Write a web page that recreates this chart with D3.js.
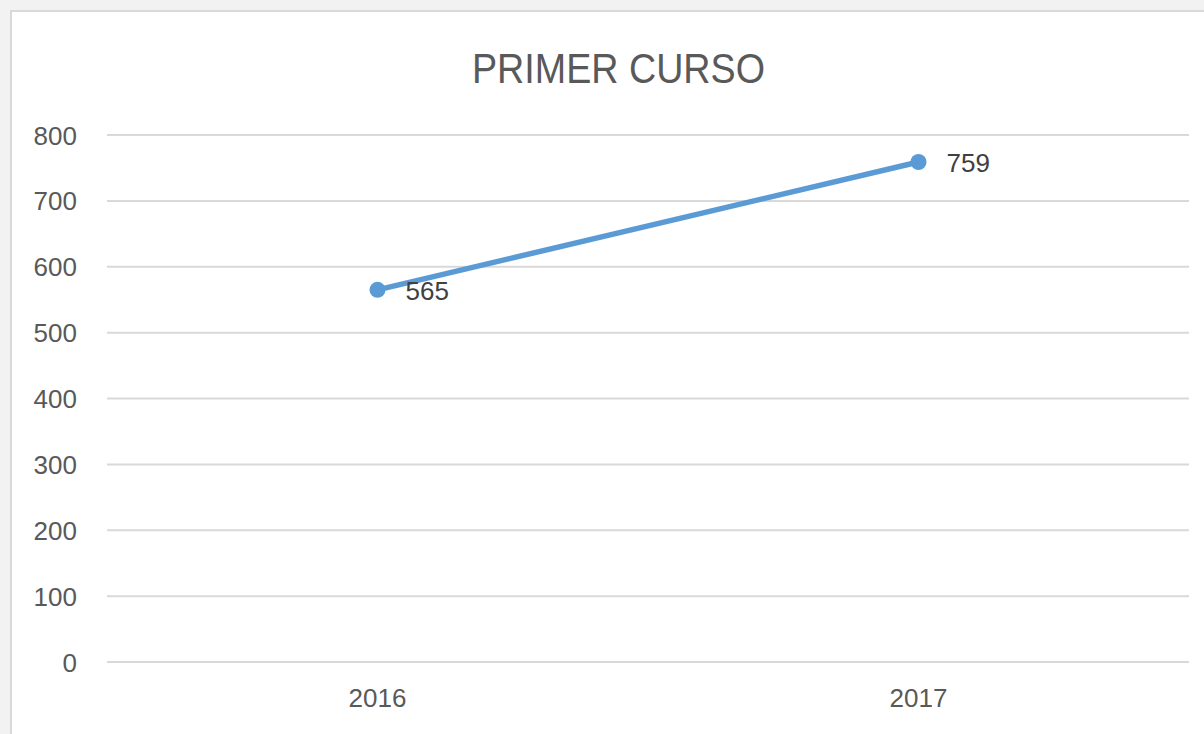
<!DOCTYPE html>
<html><head><meta charset="utf-8">
<script src="https://cdn.jsdelivr.net/npm/d3@7"></script>
<style>
html,body{margin:0;padding:0;background:#f3f2f2;}
svg{display:block;}
</style></head>
<body>
<svg id="c" width="1204" height="734"></svg>
<script>
const title = "PRIMER CURSO";
const categories = ["2016", "2017"];
const values = [565, 759];
const yTicks = [0, 100, 200, 300, 400, 500, 600, 700, 800];

const svg = d3.select("#c");
const W = 1204, H = 734;
const font = "'Liberation Sans', Arial, sans-serif";
const textColor = "#595959";

// chart area background
svg.append("rect").attr("x", 0).attr("y", 0).attr("width", W).attr("height", H).attr("fill", "#f3f2f2");
svg.append("rect").attr("x", 11).attr("y", 11).attr("width", W + 10).attr("height", H + 10)
  .attr("fill", "#ffffff").attr("stroke", "#d9d9d9").attr("stroke-width", 2);

const x = d3.scaleBand().domain(categories).range([107, 1189]);
const y = d3.scaleLinear().domain([0, 800]).range([662, 135]);

// gridlines
svg.append("g").selectAll("line").data(yTicks).join("line")
  .attr("x1", 107).attr("x2", 1189)
  .attr("y1", d => y(d)).attr("y2", d => y(d))
  .attr("stroke", "#d9d9d9").attr("stroke-width", 2);

// y axis labels
const yAxis = d3.axisLeft(y).tickValues(yTicks).tickSize(0).tickPadding(0).tickFormat(d3.format("d"));
const gy = svg.append("g").attr("transform", "translate(77,0)").call(yAxis);
gy.select(".domain").remove();
gy.selectAll("text").attr("font-family", font).attr("font-size", 26).attr("fill", textColor).attr("dy", "0.35em");

// x axis labels
const xAxis = d3.axisBottom(x).tickSize(0).tickPadding(0);
const gx = svg.append("g").attr("transform", "translate(0,698)").call(xAxis);
gx.select(".domain").remove();
gx.selectAll("text").attr("font-family", font).attr("font-size", 26).attr("fill", textColor)
  .attr("y", 0).attr("dy", "0.35em");

// title
svg.append("text").attr("x", 618.5).attr("y", 83).attr("text-anchor", "middle")
  .attr("font-family", font).attr("font-size", 42).attr("fill", textColor)
  .attr("textLength", 293).attr("lengthAdjust", "spacingAndGlyphs")
  .text(title);

// line
const cx = d => x(d) + x.bandwidth() / 2;
const data = categories.map((c, i) => ({c, v: values[i]}));
svg.append("path").datum(data)
  .attr("d", d3.line().x(d => cx(d.c)).y(d => y(d.v)))
  .attr("fill", "none").attr("stroke", "#5b9bd5").attr("stroke-width", 5.5).attr("stroke-linecap", "round");

svg.append("g").selectAll("circle").data(data).join("circle")
  .attr("cx", d => cx(d.c)).attr("cy", d => y(d.v)).attr("r", 8).attr("fill", "#5b9bd5");

// data labels
svg.append("g").selectAll("text").data(data).join("text")
  .attr("x", d => cx(d.c) + 28).attr("y", d => y(d.v) + 1)
  .attr("dy", "0.35em")
  .attr("font-family", font).attr("font-size", 26).attr("fill", "#404040")
  .text(d => d.v);
</script>
</body></html>
